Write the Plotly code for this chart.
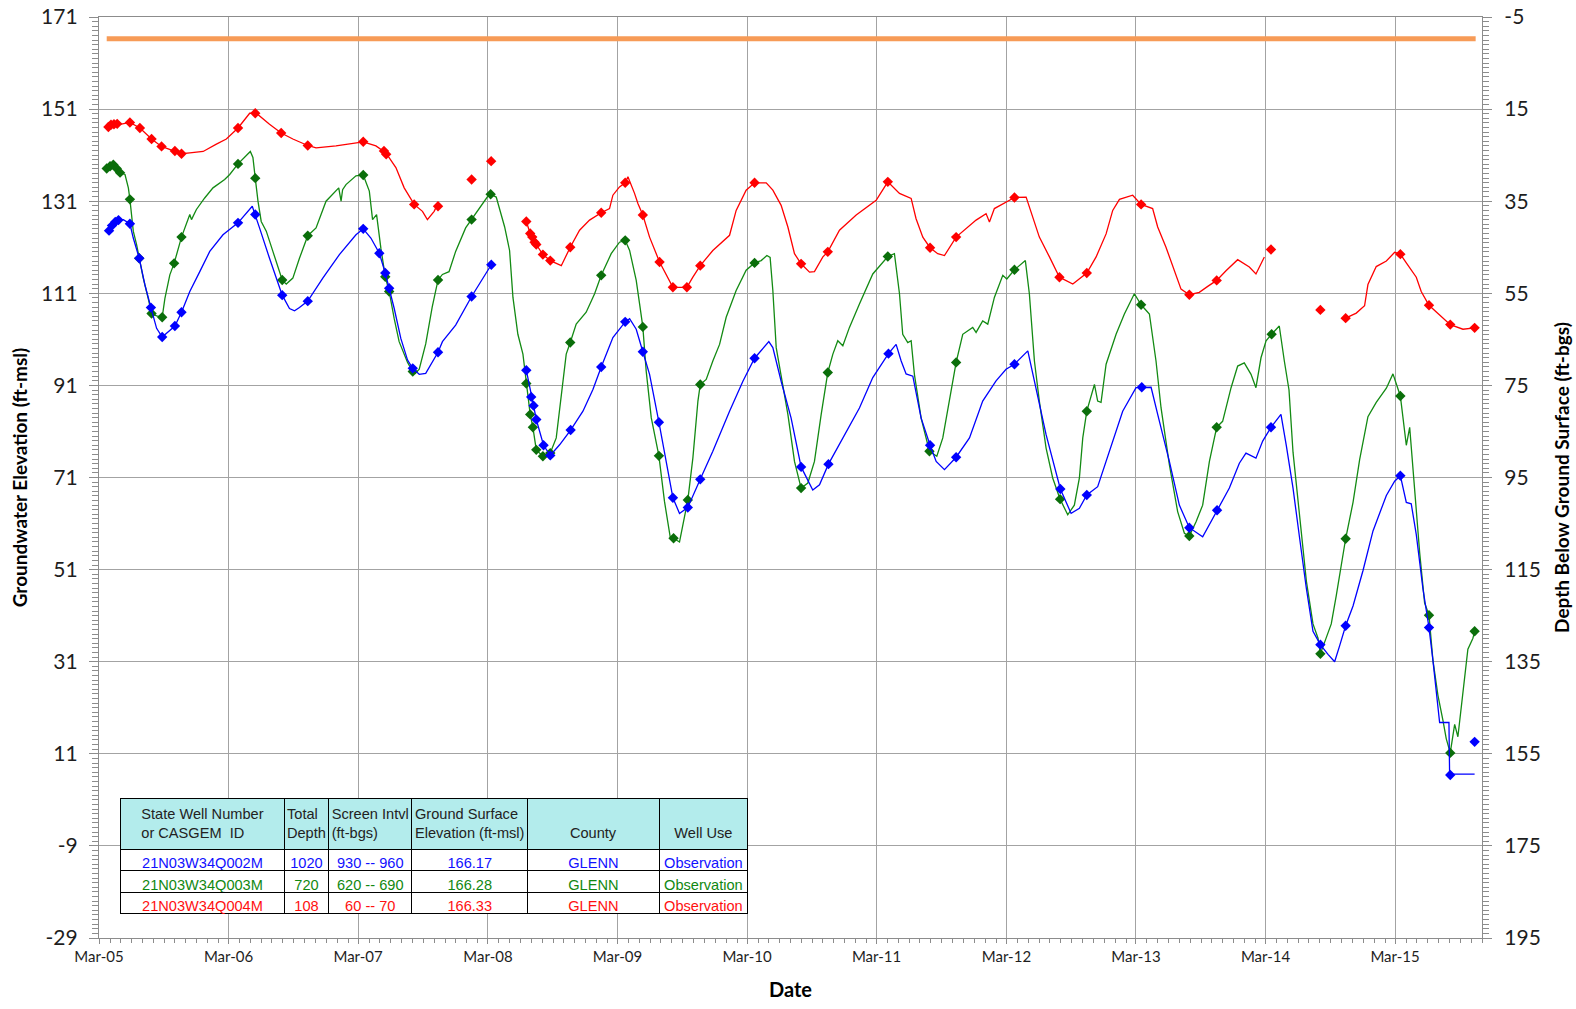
import pandas as pd
import plotly.graph_objects as go

# ---------------- data (decimal years, elevation ft-msl) ----------------
RED_LINE_YR = [2005.234, 2005.272, 2005.324, 2005.400, 2005.477, 2005.567, 2005.644, 2005.747, 2005.798, 2005.862,
               2005.965, 2006.067, 2006.144, 2006.234, 2006.324, 2006.375, 2006.477, 2006.567, 2006.657, 2006.772,
               2006.836, 2006.990, 2007.144, 2007.200, 2007.298, 2007.375, 2007.452, 2007.516, 2007.593, 2007.657,
               2007.695, 2007.747, 2007.759, None,
               2008.458, 2008.488, 2008.504, 2008.522, 2008.535, 2008.586, 2008.643, 2008.728, 2008.797, 2008.869,
               2008.946, 2009.036, 2009.100, 2009.126, 2009.177, 2009.221, 2009.242, 2009.293, 2009.319, 2009.357,
               2009.409, 2009.486, 2009.589, 2009.640, 2009.697, 2009.743, 2009.800, 2009.897, 2010.026, 2010.077,
               2010.154, 2010.219, 2010.309, 2010.360, 2010.424, 2010.476, 2010.527, 2010.578, 2010.643, 2010.681,
               2010.746, 2010.784, 2010.874, 2011.003, 2011.157, 2011.247, 2011.337, 2011.427, 2011.465, 2011.517,
               2011.573, 2011.632, 2011.684, 2011.774, 2011.851, 2011.928, 2012.005, 2012.031, 2012.069, 2012.159,
               2012.224, 2012.314, 2012.365, 2012.416, 2012.494, 2012.571, 2012.674, 2012.725, 2012.782, 2012.854,
               2012.931, 2012.982, 2013.034, 2013.136, 2013.201, 2013.290, 2013.329, 2013.393, 2013.445, 2013.509,
               2013.573, 2013.650, 2013.715, 2013.784, 2013.856, 2013.946, 2014.036, 2014.087, 2014.152, None,
               2014.779, 2014.861, 2014.925, 2014.951, 2015.015, 2015.093, 2015.157, 2015.201, 2015.247, 2015.324,
               2015.362, 2015.422, 2015.504, 2015.586, 2015.684, 2015.774]
RED_LINE_EL = [147.1, 147.5, 147.7, 148.1, 146.9, 144.5, 142.9, 141.9, 141.3, 141.5,
               141.8, 143.4, 144.5, 146.9, 150.1, 150.1, 147.7, 145.8, 144.5, 143.1,
               142.6, 143.0, 143.6, 143.9, 143.0, 141.5, 138.3, 133.9, 130.3, 128.8,
               127.0, 128.8, 129.5, None,
               126.6, 124.0, 123.2, 122.1, 121.6, 119.4, 118.1, 117.0, 121.0, 124.7,
               126.9, 128.5, 129.4, 132.3, 134.1, 135.0, 136.3, 132.7, 130.5, 128.0,
               123.2, 117.8, 112.3, 112.3, 112.3, 114.5, 117.0, 120.3, 123.6, 129.0,
               133.4, 135.0, 135.0, 133.4, 130.1, 125.4, 119.6, 117.4, 115.6, 115.7,
               118.9, 120.0, 124.7, 128.0, 131.2, 135.2, 132.7, 131.6, 127.2, 123.2,
               120.9, 119.6, 119.2, 123.2, 125.0, 126.9, 128.3, 126.5, 129.4, 130.9,
               131.8, 131.9, 127.6, 123.2, 118.9, 114.5, 113.0, 114.1, 115.4, 118.9,
               123.9, 129.0, 131.4, 132.3, 130.3, 129.4, 125.4, 121.0, 116.7, 111.9,
               110.7, 111.2, 112.5, 113.8, 115.9, 118.3, 116.7, 115.2, 118.9, None,
               105.6, 106.7, 108.3, 112.9, 116.8, 118.0, 119.9, 119.5, 117.6, 114.5,
               111.4, 108.4, 106.3, 104.2, 103.2, 103.5]
RED_PTS_YR = [2005.234, 2005.254, 2005.277, 2005.302, 2005.400, 2005.477, 2005.567, 2005.644, 2005.747, 2005.798,
              2006.234, 2006.367, 2006.567, 2006.772, 2007.200, 2007.360, 2007.377, 2007.593, 2007.777, 2008.036,
              2008.187, 2008.458, 2008.488, 2008.504, 2008.522, 2008.535, 2008.586, 2008.643, 2008.797, 2009.036,
              2009.221, 2009.357, 2009.486, 2009.589, 2009.697, 2009.800, 2010.219, 2010.578, 2010.784, 2011.247,
              2011.573, 2011.774, 2012.224, 2012.571, 2012.782, 2013.201, 2013.573, 2013.784, 2014.203, 2014.584,
              2014.779, 2015.201, 2015.422, 2015.586, 2015.774]
RED_PTS_EL = [147.1, 147.6, 147.7, 147.8, 148.1, 146.9, 144.5, 142.9, 141.9, 141.3,
              146.9, 150.1, 145.8, 143.1, 143.9, 141.9, 141.2, 130.3, 129.9, 135.7,
              139.7, 126.6, 124.0, 123.2, 122.1, 121.6, 119.4, 118.1, 121.0, 128.5,
              135.0, 128.0, 117.8, 112.3, 112.3, 117.0, 135.0, 117.4, 120.0, 135.2,
              120.9, 123.2, 131.8, 114.5, 115.4, 130.3, 110.7, 113.8, 120.5, 107.4,
              105.6, 119.5, 108.4, 104.2, 103.5]

GREEN_LINE_YR = [2005.221, 2005.272, 2005.298, 2005.324, 2005.362, 2005.388, 2005.400, 2005.426, 2005.452, 2005.472,
                 2005.503, 2005.541, 2005.567, 2005.606, 2005.649, 2005.670, 2005.708, 2005.741, 2005.772, 2005.798,
                 2005.862, 2005.875, 2005.913, 2005.977, 2006.041, 2006.131, 2006.170, 2006.234, 2006.329, 2006.349,
                 2006.367, 2006.388, 2006.413, 2006.452, 2006.503, 2006.575, 2006.606, 2006.657, 2006.708, 2006.772,
                 2006.836, 2006.913, 2007.011, 2007.029, 2007.041, 2007.067, 2007.144, 2007.200, 2007.247, 2007.272,
                 2007.303, 2007.336, 2007.370, 2007.400, 2007.439, 2007.477, 2007.542, 2007.582, 2007.602, 2007.632,
                 2007.682, 2007.732, 2007.777, 2007.811, 2007.862, 2007.913, 2007.990, 2008.036, 2008.157, 2008.183,
                 2008.226, 2008.291, 2008.329, 2008.355, 2008.393, 2008.432, 2008.458, 2008.488, 2008.509, 2008.535,
                 2008.586, 2008.643, 2008.689, 2008.728, 2008.766, 2008.797, 2008.843, 2008.920, 2008.985, 2009.036,
                 2009.113, 2009.177, 2009.221, 2009.255, 2009.306, 2009.332, 2009.357, 2009.383, 2009.422, 2009.481,
                 2009.524, 2009.568, 2009.594, 2009.640, 2009.666, 2009.704, 2009.743, 2009.782, 2009.800, 2009.846,
                 2009.897, 2009.949, 2010.000, 2010.077, 2010.154, 2010.219, 2010.270, 2010.314, 2010.339, 2010.360,
                 2010.386, 2010.424, 2010.476, 2010.527, 2010.578, 2010.630, 2010.681, 2010.733, 2010.784, 2010.823,
                 2010.861, 2010.900, 2010.951, 2011.028, 2011.131, 2011.247, 2011.298, 2011.337, 2011.362, 2011.401,
                 2011.427, 2011.452, 2011.504, 2011.568, 2011.625, 2011.671, 2011.722, 2011.774, 2011.825, 2011.902,
                 2011.928, 2011.979, 2012.018, 2012.069, 2012.134, 2012.165, 2012.224, 2012.308, 2012.339, 2012.378,
                 2012.416, 2012.468, 2012.519, 2012.576, 2012.635, 2012.686, 2012.725, 2012.751, 2012.782, 2012.841,
                 2012.866, 2012.892, 2012.931, 2013.008, 2013.072, 2013.149, 2013.201, 2013.239, 2013.265, 2013.316,
                 2013.355, 2013.419, 2013.483, 2013.535, 2013.573, 2013.625, 2013.676, 2013.728, 2013.784, 2013.830,
                 2013.895, 2013.946, 2013.997, 2014.049, 2014.087, 2014.126, 2014.165, 2014.208, 2014.267, 2014.306,
                 2014.342, 2014.373, 2014.424, 2014.476, 2014.527, 2014.566, 2014.584, 2014.630, 2014.668, 2014.707,
                 2014.746, 2014.779, 2014.836, 2014.887, 2014.951, 2015.015, 2015.093, 2015.144, 2015.201, 2015.247,
                 2015.273, 2015.311, 2015.350, 2015.388, 2015.422, 2015.452, 2015.491, 2015.530, 2015.555, 2015.586,
                 2015.620, 2015.645, 2015.684, 2015.722, 2015.761, 2015.774]
GREEN_LINE_EL = [138.1, 138.9, 138.1, 137.2, 136.8, 133.9, 131.4, 124.5, 121.5, 118.6,
                 114.3, 109.9, 106.6, 106.1, 105.8, 109.9, 115.0, 117.5, 120.8, 123.2,
                 128.1, 127.0, 129.2, 131.7, 133.9, 135.7, 136.8, 139.1, 141.8, 140.5,
                 136.0, 131.0, 126.6, 124.5, 120.1, 113.9, 113.0, 114.3, 118.6, 123.5,
                 125.2, 131.0, 133.9, 131.0, 133.5, 134.6, 136.5, 136.7, 133.2, 127.0,
                 128.1, 120.8, 114.6, 111.4, 105.5, 100.5, 96.0, 94.0, 93.6, 94.5,
                 100.0, 108.0, 113.9, 115.1, 115.7, 120.1, 125.2, 127.0, 131.9, 132.5,
                 131.9, 125.4, 120.3, 110.1, 102.1, 97.8, 91.4, 84.7, 81.9, 77.0,
                 75.6, 76.3, 79.6, 89.0, 97.8, 100.3, 104.3, 106.9, 110.9, 114.9,
                 119.6, 122.1, 122.5, 120.3, 113.8, 108.7, 103.7, 94.1, 84.0, 75.7,
                 65.8, 58.1, 57.8, 57.0, 60.7, 66.1, 75.2, 87.6, 91.2, 92.3,
                 96.3, 99.9, 105.8, 111.6, 116.0, 117.6, 118.1, 119.2, 118.8, 111.6,
                 99.2, 93.4, 84.7, 74.5, 68.7, 69.8, 74.5, 84.7, 93.8, 97.8,
                 100.7, 99.6, 103.6, 108.7, 115.2, 119.0, 119.6, 110.9, 102.1, 100.3,
                 100.7, 93.4, 83.9, 76.7, 75.6, 79.6, 87.6, 96.0, 102.1, 103.6,
                 102.5, 105.0, 104.3, 110.1, 114.9, 114.1, 116.1, 118.1, 110.9, 96.3,
                 87.6, 77.4, 70.9, 66.3, 62.9, 65.0, 70.9, 79.6, 85.4, 91.2,
                 87.6, 87.3, 95.6, 102.1, 106.5, 110.9, 108.5, 107.2, 106.5, 96.3,
                 86.1, 73.8, 63.6, 58.9, 58.3, 61.4, 65.0, 74.5, 81.9, 83.2,
                 90.5, 95.2, 95.9, 93.4, 90.5, 97.0, 100.7, 102.1, 103.9, 96.3,
                 90.0, 76.5, 62.5, 48.5, 39.2, 36.1, 32.7, 36.1, 39.2, 45.4,
                 52.4, 57.7, 65.6, 74.9, 84.2, 87.3, 90.4, 93.5, 88.7, 78.0,
                 81.9, 68.7, 54.7, 43.8, 41.1, 31.4, 23.7, 18.2, 14.3, 11.2,
                 17.4, 14.7, 23.7, 33.7, 36.1, 37.6]
GREEN_PTS_YR = [2005.221, 2005.247, 2005.272, 2005.298, 2005.324, 2005.400, 2005.472, 2005.567, 2005.649, 2005.741,
                2005.798, 2006.234, 2006.367, 2006.575, 2006.772, 2007.200, 2007.370, 2007.400, 2007.582, 2007.777,
                2008.036, 2008.183, 2008.458, 2008.488, 2008.509, 2008.535, 2008.586, 2008.643, 2008.797, 2009.036,
                2009.221, 2009.357, 2009.481, 2009.594, 2009.704, 2009.800, 2010.219, 2010.578, 2010.784, 2011.247,
                2011.568, 2011.774, 2012.224, 2012.576, 2012.782, 2013.201, 2013.573, 2013.784, 2014.208, 2014.584,
                2014.779, 2015.201, 2015.422, 2015.586, 2015.774]
GREEN_PTS_EL = [138.1, 138.6, 138.9, 138.1, 137.2, 131.4, 118.6, 106.6, 105.8, 117.5,
                123.2, 139.1, 136.0, 113.9, 123.5, 136.7, 114.6, 111.4, 94.0, 113.9,
                127.0, 132.5, 91.4, 84.7, 81.9, 77.0, 75.6, 76.3, 100.3, 114.9,
                122.5, 103.7, 75.7, 57.8, 66.1, 91.2, 117.6, 68.7, 93.8, 119.0,
                76.7, 96.0, 116.1, 66.3, 85.4, 108.5, 58.3, 81.9, 102.1, 32.7,
                57.7, 88.7, 41.1, 11.2, 37.6]

BLUE_LINE_YR = [2005.239, 2005.272, 2005.311, 2005.349, 2005.400, 2005.426, 2005.472, 2005.516, 2005.562, 2005.606,
                2005.649, 2005.708, 2005.747, 2005.798, 2005.862, 2005.939, 2006.016, 2006.118, 2006.234, 2006.344,
                2006.367, 2006.400, 2006.477, 2006.575, 2006.631, 2006.670, 2006.708, 2006.772, 2006.888, 2007.016,
                2007.144, 2007.200, 2007.259, 2007.324, 2007.370, 2007.400, 2007.439, 2007.490, 2007.542, 2007.582,
                2007.632, 2007.682, 2007.712, 2007.777, 2007.811, 2007.913, 2008.036, 2008.188, None,
                2008.458, 2008.496, 2008.514, 2008.535, 2008.591, 2008.643, 2008.715, 2008.800, 2008.895, 2008.972,
                2009.036, 2009.126, 2009.221, 2009.255, 2009.306, 2009.357, 2009.409, 2009.481, 2009.537, 2009.589,
                2009.640, 2009.704, 2009.800, 2009.897, 2010.026, 2010.129, 2010.219, 2010.329, 2010.360, 2010.424,
                2010.501, 2010.578, 2010.668, 2010.720, 2010.789, 2010.900, 2011.028, 2011.131, 2011.252, 2011.311,
                2011.350, 2011.388, 2011.440, 2011.504, 2011.573, 2011.620, 2011.684, 2011.774, 2011.877, 2011.979,
                2012.082, 2012.159, 2012.224, 2012.327, 2012.391, 2012.468, 2012.578, 2012.661, 2012.725, 2012.782,
                2012.866, 2012.956, 2013.059, 2013.162, 2013.206, 2013.278, 2013.329, 2013.419, 2013.496, 2013.573,
                2013.676, 2013.728, 2013.787, 2013.882, 2013.959, 2014.010, 2014.087, 2014.139, 2014.203, 2014.280,
                2014.321, 2014.373, 2014.424, 2014.476, 2014.527, 2014.584, 2014.643, 2014.694, 2014.733, 2014.779,
                2014.836, 2014.913, 2014.990, 2015.093, 2015.157, 2015.201, 2015.247, 2015.285, 2015.324, 2015.375,
                2015.422, 2015.452, 2015.504, 2015.576, 2015.581, 2015.774]
BLUE_LINE_EL = [124.6, 125.9, 126.9, 127.0, 126.1, 123.0, 118.6, 112.8, 107.9, 103.4,
                101.5, 103.0, 103.9, 106.9, 111.4, 115.7, 120.1, 123.7, 126.3, 129.9,
                128.1, 125.2, 118.6, 110.6, 107.7, 107.2, 107.9, 109.3, 114.3, 119.4,
                123.7, 125.0, 123.0, 119.7, 115.4, 112.1, 107.7, 101.2, 96.5, 94.7,
                93.4, 93.6, 95.0, 98.2, 100.5, 104.1, 110.3, 117.2, None,
                94.3, 88.5, 86.6, 83.6, 78.0, 75.8, 78.1, 81.3, 85.4, 90.1,
                95.0, 101.4, 104.8, 105.5, 103.2, 98.3, 93.4, 83.0, 74.5, 66.6,
                63.2, 64.5, 70.6, 76.7, 85.4, 91.9, 96.9, 100.5, 99.2, 91.9,
                83.9, 73.3, 68.3, 69.4, 73.9, 79.6, 86.1, 92.7, 97.9, 99.9,
                96.3, 93.5, 93.0, 83.9, 78.0, 74.5, 72.7, 75.4, 79.6, 87.6,
                92.0, 94.5, 95.6, 98.5, 90.5, 80.3, 68.5, 63.2, 64.3, 67.2,
                69.0, 76.7, 85.4, 90.5, 90.6, 90.6, 84.7, 74.5, 65.0, 60.1,
                58.1, 60.7, 63.9, 68.7, 74.1, 76.3, 75.2, 78.9, 81.9, 84.7,
                78.0, 68.7, 57.8, 46.9, 37.6, 34.7, 32.6, 31.0, 34.5, 38.8,
                43.1, 50.8, 59.4, 67.1, 70.2, 71.4, 65.6, 65.3, 58.6, 46.9,
                38.4, 31.4, 17.8, 17.8, 6.6, 6.6]
BLUE_PTS_YR = [2005.239, 2005.262, 2005.287, 2005.312, 2005.400, 2005.472, 2005.562, 2005.649, 2005.747, 2005.798,
               2006.234, 2006.367, 2006.575, 2006.772, 2007.200, 2007.324, 2007.370, 2007.400, 2007.582, 2007.777,
               2008.036, 2008.188, 2008.458, 2008.496, 2008.514, 2008.535, 2008.591, 2008.643, 2008.800, 2009.036,
               2009.221, 2009.357, 2009.481, 2009.589, 2009.704, 2009.800, 2010.219, 2010.578, 2010.789, 2011.252,
               2011.573, 2011.774, 2012.224, 2012.578, 2012.782, 2013.206, 2013.573, 2013.787, 2014.203, 2014.584,
               2014.779, 2015.201, 2015.422, 2015.586, 2015.774]
BLUE_PTS_EL = [124.6, 125.7, 126.5, 126.9, 126.1, 118.6, 107.9, 101.5, 103.9, 106.9,
               126.3, 128.1, 110.6, 109.3, 125.0, 119.7, 115.4, 112.1, 94.7, 98.2,
               110.3, 117.2, 94.3, 88.5, 86.6, 83.6, 78.0, 75.8, 81.3, 95.0,
               104.8, 98.3, 83.0, 66.6, 64.5, 70.6, 96.9, 73.3, 73.9, 97.9,
               78.0, 75.4, 95.6, 68.5, 67.2, 90.6, 60.1, 63.9, 81.9, 34.7,
               38.8, 71.4, 38.4, 6.4, 13.6]

GROUND_YR = [2005.221, 2015.782]
GROUND_EL = [166.25, 166.25]

# axis ticks
LEFT_TICKS = [-29, -9, 11, 31, 51, 71, 91, 111, 131, 151, 171]
LEFT_TICK_TEXT = ["-29", "-9", "11", "31", "51", "71", "91", "111", "131", "151", "171"]
RIGHT_TICKS = [-5, 15, 35, 55, 75, 95, 115, 135, 155, 175, 195]
RIGHT_TICK_TEXT = ["-5", "15", "35", "55", "75", "95", "115", "135", "155", "175", "195"]

# table
NB = "\u00a0"
TABLE_HEADER = ["State Well Number<br>or CASGEM  ID", "Total<br>Depth", "Screen" + NB + "Intvl<br>(ft-bgs)",
                "Ground" + NB + "Surface<br>Elevation" + NB + "(ft-msl)", NB + "<br>County", NB + "<br>Well" + NB + "Use"]
WELL_ID = ["21N03W34Q002M", "21N03W34Q003M", "21N03W34Q004M"]
TOTAL_DEPTH = ["1020", "720", "108"]
SCREEN = ["930" + NB + "--" + NB + "960", "620" + NB + "--" + NB + "690", "60" + NB + "--" + NB + "70"]
GS_ELEV = ["166.17", "166.28", "166.33"]
COUNTY = ["GLENN", "GLENN", "GLENN"]
WELL_USE = ["Observation", "Observation", "Observation"]
ROW_COLORS = ["#1010FF", "#118811", "#FF1010"]

X_RANGE = ["2005-03-01", "2015-11-01"]
Y_LEFT = [-29, 171]
Y_RIGHT = [195, -5]


def to_dates(years):
    out = []
    for y in years:
        if y is None:
            out.append(None)
        else:
            out.append(pd.Timestamp("2005-01-01") + pd.to_timedelta((y - 2005) * 365.25, unit="D"))
    return out


BLUE = "#0000FF"
GREEN_L = "#138A13"
GREEN_M = "#0A6E0A"
RED = "#FF0000"
ORANGE = "#F79B57"
GRID = "#A3A3A3"
AXL = "#8C8C8C"
TICKC = "#1E1E1E"
FONT = "Lato"

fig = go.Figure()

fig.add_trace(go.Scatter(x=to_dates(GROUND_YR), y=GROUND_EL, mode="lines",
                         line=dict(color=ORANGE, width=5), showlegend=False, hoverinfo="skip"))

for lx, ly, px, py, lc, mc in [
    (RED_LINE_YR, RED_LINE_EL, RED_PTS_YR, RED_PTS_EL, RED, RED),
    (GREEN_LINE_YR, GREEN_LINE_EL, GREEN_PTS_YR, GREEN_PTS_EL, GREEN_L, GREEN_M),
    (BLUE_LINE_YR, BLUE_LINE_EL, BLUE_PTS_YR, BLUE_PTS_EL, BLUE, BLUE),
]:
    fig.add_trace(go.Scatter(x=to_dates(lx), y=ly, mode="lines", connectgaps=False,
                             line=dict(color=lc, width=1.3), showlegend=False))
    fig.add_trace(go.Scatter(x=to_dates(px), y=py, mode="markers",
                             marker=dict(symbol="diamond", size=8, color=mc, line=dict(width=0)),
                             showlegend=False))

# invisible trace to activate the right-hand depth axis
fig.add_trace(go.Scatter(x=[pd.Timestamp(X_RANGE[0])], y=[95], yaxis="y2", mode="markers",
                         marker=dict(opacity=0), showlegend=False, hoverinfo="skip"))

cells_color = [[c for c in ROW_COLORS]] * 6
fig.add_trace(go.Table(
    domain=dict(x=[0.0156, 0.4695], y=[0.024, 0.1515]),
    columnwidth=[163.8, 44.2, 83.4, 115.6, 131.7, 88.4],
    header=dict(values=TABLE_HEADER, fill_color="#B3ECEC", align="center",
                line=dict(color="#000000", width=1), height=50,
                font=dict(family="Liberation Sans", size=14.6, color="#222222")),
    cells=dict(values=[WELL_ID, TOTAL_DEPTH, SCREEN, GS_ELEV, COUNTY, WELL_USE],
               fill_color="#FFFFFF", align="center", line=dict(color="#000000", width=1), height=21.5,
               font=dict(family="Liberation Sans", size=14.6, color=cells_color)),
))

fig.update_layout(
    width=1576, height=1009,
    margin=dict(l=99, r=94, t=17, b=71, autoexpand=False),
    paper_bgcolor="white", plot_bgcolor="white",
    font=dict(family=FONT, color=TICKC),
    xaxis=dict(
        type="date", range=X_RANGE, tick0="2005-03-01", dtick="M12", tickformat="%b-%y",
        automargin=False,
        showgrid=True, gridcolor=GRID, gridwidth=1.3,
        showline=True, linecolor=AXL, linewidth=1.3, mirror=True,
        ticks="outside", ticklen=5, tickcolor=AXL, tickwidth=1.2,
        minor=dict(dtick="M1", tick0="2005-03-01", ticks="outside", ticklen=4, tickcolor=AXL, showgrid=False),
        tickfont=dict(family=FONT, size=15, color=TICKC),
        title=dict(text="<b>Date</b>", font=dict(family=FONT, size=20, color="#000000"), standoff=18),
        zeroline=False,
    ),
    yaxis=dict(
        range=Y_LEFT, tickmode="array", tickvals=LEFT_TICKS, ticktext=LEFT_TICK_TEXT,
        automargin=False, ticklabeloverflow="allow",
        showgrid=True, gridcolor=GRID, gridwidth=1.3,
        showline=True, linecolor=AXL, linewidth=1.3, mirror=True,
        ticks="outside", ticklen=9, tickcolor=AXL, tickwidth=1.2, ticklabelstandoff=7,
        minor=dict(dtick=1, tick0=-29, ticks="outside", ticklen=6, tickcolor=AXL, showgrid=False),
        tickfont=dict(family=FONT, size=21, color=TICKC),
        title=dict(text="<b>Groundwater Elevation (ft-msl)</b>", font=dict(family=FONT, size=19, color="#000000"),
                   standoff=8),
        zeroline=False,
    ),
    yaxis2=dict(
        overlaying="y", side="right", range=Y_RIGHT, tickmode="array", tickvals=RIGHT_TICKS,
        ticktext=RIGHT_TICK_TEXT, automargin=False, ticklabeloverflow="allow",
        showgrid=False, showline=True, linecolor=AXL, linewidth=1.3,
        ticks="outside", ticklen=9, tickcolor=AXL, tickwidth=1.2, ticklabelstandoff=8,
        minor=dict(dtick=1, tick0=-5, ticks="outside", ticklen=6, tickcolor=AXL, showgrid=False),
        tickfont=dict(family=FONT, size=21, color=TICKC),
        title=dict(text="<b>Depth Below Ground Surface (ft-bgs)</b>",
                   font=dict(family=FONT, size=19, color="#000000"), standoff=15),
        zeroline=False,
    ),
    showlegend=False,
)

# remove the default page margin so the figure sits at the window's top-left corner
fig.write_html("out.html", config={"displayModeBar": False},
               post_script="document.body.style.margin='0px';document.body.style.overflow='hidden';")
